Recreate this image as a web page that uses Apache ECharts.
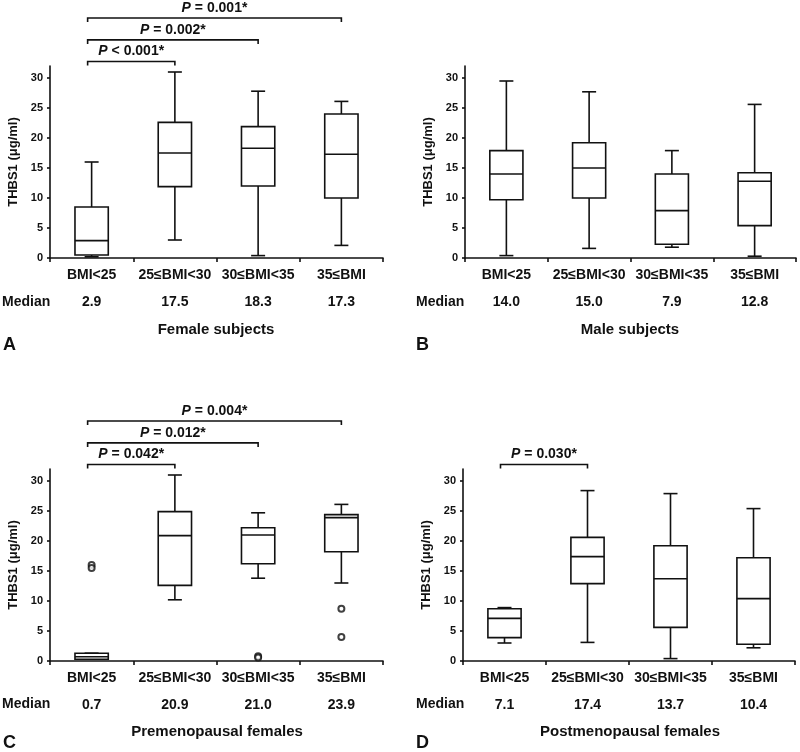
<!DOCTYPE html>
<html>
<head>
<meta charset="utf-8">
<script src="https://cdn.jsdelivr.net/npm/echarts@6/dist/echarts.min.js"></script>
<style>
  html, body { margin: 0; padding: 0; background: #fff; }
  #chart { width: 800px; height: 752px; }
</style>
</head>
<body>
<div id="chart"></div>
<script>
// categories and tick values
const categories = ['BMI<25', '25≤BMI<30', '30≤BMI<35', '35≤BMI'];
const yTicks = [0, 5, 10, 15, 20, 25, 30];

// box stats per category: [low whisker, Q1, median, Q3, high whisker]
const femaleBoxes = [[0.2, 0.5, 2.9, 8.5, 16.0], [3.0, 11.9, 17.5, 22.6, 31.0], [0.4, 12.0, 18.3, 21.9, 27.8], [2.1, 10.0, 17.3, 24.0, 26.1]];
const maleBoxes = [[0.4, 9.7, 14.0, 17.9, 29.5], [1.6, 10.0, 15.0, 19.2, 27.7], [1.8, 2.3, 7.9, 14.0, 17.9], [0.3, 5.4, 12.8, 14.2, 25.6]];
const preBoxes = [[0.3, 0.3, 0.7, 1.3, 1.3], [10.2, 12.6, 20.9, 24.9, 31.0], [13.8, 16.2, 21.0, 22.2, 24.7], [13.0, 18.2, 23.9, 24.4, 26.1]];
const postBoxes = [[3.0, 3.9, 7.1, 8.7, 8.9], [3.1, 12.9, 17.4, 20.6, 28.4], [0.4, 5.6, 13.7, 19.2, 27.9], [2.2, 2.8, 10.4, 17.2, 25.4]];

// outliers [category index, value]
const preOutliers = [[0, 16.0], [0, 15.5], [2, 0.8], [2, 0.6], [3, 8.7], [3, 4.0]];

// median row labels
const femaleMedians = ['2.9', '17.5', '18.3', '17.3'];
const maleMedians = ['14.0', '15.0', '7.9', '12.8'];
const preMedians = ['0.7', '20.9', '21.0', '23.9'];
const postMedians = ['7.1', '17.4', '13.7', '10.4'];

// comparisons [from category, to category, bracket level value]
const femaleBrackets = [[0, 1, 32.75], [0, 2, 36.35], [0, 3, 40]];
const femalePLabels = ['< 0.001*', '= 0.002*', '= 0.001*'];
const preBrackets = [[0, 1, 32.75], [0, 2, 36.35], [0, 3, 40]];
const prePLabels = ['= 0.042*', '= 0.012*', '= 0.004*'];
const postBrackets = [[0, 1, 32.75]];
const postPLabels = ['= 0.030*'];

const FONT = 'Liberation Sans, Arial, Helvetica, sans-serif';
const INK = '#111';

const grids = [
  { left: 50, top: 66, width: 333, height: 192 },
  { left: 465, top: 66, width: 331, height: 192 },
  { left: 50, top: 469, width: 333, height: 192 },
  { left: 463, top: 469, width: 332, height: 192 }
];

const xAxes = [];
const yAxes = [];
const series = [];

function boxSeries(g, boxes) {
  return {
    type: 'custom',
    xAxisIndex: g * 2,
    yAxisIndex: g,
    encode: { x: 0, y: [1, 2, 3, 4, 5] },
    data: boxes.map((b, k) => [k].concat(b)),
    renderItem: function (params, api) {
      const c = api.value(0);
      const x = api.coord([c, 0])[0];
      const yLo = api.coord([c, api.value(1)])[1];
      const yQ1 = api.coord([c, api.value(2)])[1];
      const yMed = api.coord([c, api.value(3)])[1];
      const yQ3 = api.coord([c, api.value(4)])[1];
      const yHi = api.coord([c, api.value(5)])[1];
      const bw = api.size([1, 0])[0] * 0.4;
      const cap = 7;
      const ls = { stroke: INK, lineWidth: 1.6 };
      return {
        type: 'group',
        children: [
          { type: 'line', shape: { x1: x, y1: yQ3, x2: x, y2: yHi }, style: ls },
          { type: 'line', shape: { x1: x - cap, y1: yHi, x2: x + cap, y2: yHi }, style: ls },
          { type: 'line', shape: { x1: x, y1: yQ1, x2: x, y2: yLo }, style: ls },
          { type: 'line', shape: { x1: x - cap, y1: yLo, x2: x + cap, y2: yLo }, style: ls },
          { type: 'rect', shape: { x: x - bw / 2, y: yQ3, width: bw, height: yQ1 - yQ3 }, style: { fill: '#fff', stroke: INK, lineWidth: 1.6 } },
          { type: 'line', shape: { x1: x - bw / 2, y1: yMed, x2: x + bw / 2, y2: yMed }, style: ls }
        ]
      };
    }
  };
}

function bracketSeries(g, brackets, labels) {
  return {
    type: 'custom',
    xAxisIndex: g * 2,
    yAxisIndex: g,
    clip: false,
    encode: { x: [0, 1], y: 2 },
    data: brackets,
    renderItem: function (params, api) {
      const x1 = api.coord([api.value(0), 0])[0] - 4;
      const x2 = api.coord([api.value(1), 0])[0];
      const y = api.coord([0, api.value(2)])[1];
      return {
        type: 'group',
        children: [
          { type: 'polyline', shape: { points: [[x1, y + 4], [x1, y], [x2, y], [x2, y + 4]] }, style: { stroke: INK, lineWidth: 1.6, fill: null } },
          {
            type: 'text', x: (x1 + x2) / 2, y: y - 10,
            style: {
              text: '{i|P}{n| ' + labels[params.dataIndex] + '}',
              align: 'center', verticalAlign: 'middle', fill: INK,
              rich: {
                i: { fontFamily: FONT, fontSize: 14, fontWeight: 'bold', fontStyle: 'italic', fill: INK },
                n: { fontFamily: FONT, fontSize: 14, fontWeight: 'bold', fill: INK }
              }
            }
          }
        ]
      };
    }
  };
}

function addPanel(g, boxes, medians, outliers, brackets, pLabels) {
  xAxes.push({
    type: 'category', gridIndex: g, data: categories, boundaryGap: true,
    axisLine: { lineStyle: { color: INK, width: 1.6 } },
    axisTick: { show: true, length: 4, interval: 0, lineStyle: { color: INK, width: 1.6 } },
    axisLabel: { interval: 0, margin: 10, color: INK, fontFamily: FONT, fontSize: 14, fontWeight: 'bold' },
    splitLine: { show: false }
  });
  xAxes.push({
    type: 'category', gridIndex: g, data: medians, position: 'bottom', offset: 27,
    axisLine: { show: false }, axisTick: { show: false },
    axisLabel: { interval: 0, margin: 10, color: INK, fontFamily: FONT, fontSize: 14, fontWeight: 'bold' }
  });
  yAxes.push({
    type: 'value', gridIndex: g, min: 0, max: 32,
    name: 'THBS1 (μg/ml)', nameLocation: 'middle', nameGap: 30,
    nameTextStyle: { color: INK, fontFamily: FONT, fontSize: 13, fontWeight: 'bold' },
    axisLine: { show: true, lineStyle: { color: INK, width: 1.6 } },
    axisTick: { show: true, length: 3, customValues: yTicks, lineStyle: { color: INK, width: 1.6 } },
    axisLabel: { customValues: yTicks, margin: 7, color: INK, fontFamily: FONT, fontSize: 11, fontWeight: 'bold' },
    splitLine: { show: false }
  });
  series.push(boxSeries(g, boxes));
  if (outliers.length) {
    series.push({
      type: 'scatter', xAxisIndex: g * 2, yAxisIndex: g, data: outliers,
      symbol: 'emptyCircle', symbolSize: 6,
      itemStyle: { color: INK, borderColor: INK, borderWidth: 1.6 }
    });
  }
  if (brackets.length) series.push(bracketSeries(g, brackets, pLabels));
}

addPanel(0, femaleBoxes, femaleMedians, [], femaleBrackets, femalePLabels);
addPanel(1, maleBoxes, maleMedians, [], [], []);
addPanel(2, preBoxes, preMedians, preOutliers, preBrackets, prePLabels);
addPanel(3, postBoxes, postMedians, [], postBrackets, postPLabels);

function label(text, x, y, size, align) {
  return {
    type: 'text', x: x, y: y,
    style: { text: text, fill: INK, font: 'bold ' + size + 'px ' + FONT, textAlign: align || 'left', textVerticalAlign: 'middle' }
  };
}

const chart = echarts.init(document.getElementById('chart'));
chart.setOption({
  backgroundColor: '#fff',
  animation: false,
  grid: grids,
  xAxis: xAxes,
  yAxis: yAxes,
  series: series,
  graphic: [
    label('Median', 2, 302, 14),
    label('Median', 416, 302, 14),
    label('Median', 2, 704, 14),
    label('Median', 416, 704, 14),
    label('Female subjects', 216, 330, 15, 'center'),
    label('Male subjects', 630, 330, 15, 'center'),
    label('Premenopausal females', 217, 732, 15, 'center'),
    label('Postmenopausal females', 630, 732, 15, 'center'),
    label('A', 3, 345, 18),
    label('B', 416, 345, 18),
    label('C', 3, 743, 18),
    label('D', 416, 743, 18)
  ]
});
</script>
</body>
</html>
